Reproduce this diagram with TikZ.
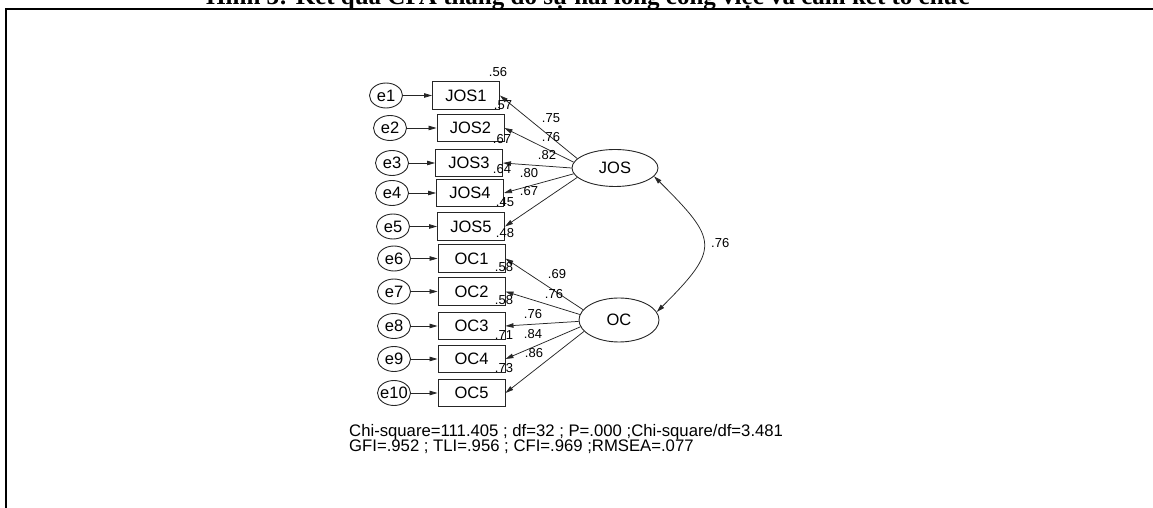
\documentclass[tikz,border=0pt]{standalone}
\usepackage{fontspec}
\setmainfont{Liberation Sans}
\newfontfamily\captionfont{Liberation Serif}
\usetikzlibrary{shapes.geometric,arrows.meta}

\begin{document}
\begin{tikzpicture}[x=1pt, y=1pt,
    obs/.style={rectangle, draw=black!85, line width=0.9pt, minimum width=67pt,
        minimum height=27.5pt, inner sep=0pt, font=\fontsize{16.5}{18}\selectfont},
    eps/.style={ellipse, draw=black!85, line width=0.9pt, minimum width=33pt,
        minimum height=25pt, inner sep=0pt, font=\fontsize{16.5}{18}\selectfont},
    lat/.style={ellipse, draw=black!85, line width=0.9pt, inner sep=0pt,
        font=\fontsize{16.5}{18}\selectfont},
    load/.style={-{Triangle[length=8pt,width=4.5pt]}, line width=0.75pt, black!85},
    cov/.style={{Triangle[length=8pt,width=4.5pt]}-{Triangle[length=8pt,width=4.5pt]},
        line width=0.75pt, black!85},
    num/.style={inner sep=0pt, font=\fontsize{13}{14}\selectfont}
]
    \useasboundingbox (0,0) rectangle (1153,508);

    % caption and page frame
    \node[anchor=base, font=\captionfont\bfseries\fontsize{25}{28}\selectfont] (title) at (588,503)
        {Hình 3: Kết quả CFA thang đo sự hài lòng công việc và cam kết tổ chức};
    \draw[line width=2pt] (6,0) -- (6,499.5);
    \draw[line width=1.2pt] (5,499) -- (1153,499);

    % observed variables
    \node[obs] (jos1) at (466,412.5) {JOS1};
    \node[obs] (jos2) at (470.5,380) {JOS2};
    \node[obs] (jos3) at (469,345) {JOS3};
    \node[obs] (jos4) at (470,315) {JOS4};
    \node[obs] (jos5) at (471,281.5) {JOS5};
    \node[obs] (oc1) at (471.5,249.5) {OC1};
    \node[obs] (oc2) at (471.5,216.5) {OC2};
    \node[obs] (oc3) at (471.5,182) {OC3};
    \node[obs] (oc4) at (471.5,149) {OC4};
    \node[obs] (oc5) at (471.5,115) {OC5};

    % error terms
    \node[eps] (e1) at (386,412.5) {e1};
    \node[eps] (e2) at (390,380) {e2};
    \node[eps] (e3) at (392,345) {e3};
    \node[eps] (e4) at (392,315) {e4};
    \node[eps] (e5) at (393,281.5) {e5};
    \node[eps] (e6) at (394,249.5) {e6};
    \node[eps] (e7) at (394,216.5) {e7};
    \node[eps] (e8) at (394,182) {e8};
    \node[eps] (e9) at (394,149) {e9};
    \node[eps] (e10) at (394,115) {\makebox[0pt]{e10}};

    \draw[load] (e1) -- (jos1);
    \draw[load] (e2) -- (jos2);
    \draw[load] (e3) -- (jos3);
    \draw[load] (e4) -- (jos4);
    \draw[load] (e5) -- (jos5);
    \draw[load] (e6) -- (oc1);
    \draw[load] (e7) -- (oc2);
    \draw[load] (e8) -- (oc3);
    \draw[load] (e9) -- (oc4);
    \draw[load] (e10) -- (oc5);

    % latent factors
    \node[lat, minimum width=86pt, minimum height=37pt] (JOS) at (615,340) {JOS};
    \node[lat, minimum width=80pt, minimum height=44pt] (OC) at (619,188) {OC};

    \draw[load] (JOS.166) -- (jos1.east);
    \draw[load] (JOS.172) -- (jos2.east);
    \draw[load] (JOS.180) -- (jos3.east);
    \draw[load] (JOS.188) -- (jos4.east);
    \draw[load] (JOS.194) -- (jos5.east);
    \draw[load] (OC.164) -- (oc1.east);
    \draw[load] (OC.172) -- (oc2.east);
    \draw[load] (OC.182) -- (oc3.east);
    \draw[load] (OC.190) -- (oc4.east);
    \draw[load] (OC.198) -- (oc5.east);

    \draw[cov] (JOS.-12) to[out=-45, in=45, looseness=1.7] (OC.12);
    \node[num, anchor=west] (c1) at (711,265) {.76};

    % squared multiple correlations
    \node[num] (r1) at (498,436) {.56};
    \node[num] (r2) at (503,403) {.57};
    \node[num] (r3) at (502,369) {.67};
    \node[num] (r4) at (502,339) {.64};
    \node[num] (r5) at (505,306) {.45};
    \node[num] (r6) at (505,275) {.48};
    \node[num] (r7) at (504,241) {.58};
    \node[num] (r8) at (504,208) {.58};
    \node[num] (r9) at (504,173) {.71};
    \node[num] (r10) at (504,140) {.73};

    % standardized loadings
    \node[num] (l1) at (551,390) {.75};
    \node[num] (l2) at (551,371) {.76};
    \node[num] (l3) at (547,353) {.82};
    \node[num] (l4) at (529,335) {.80};
    \node[num] (l5) at (529,317) {.67};
    \node[num] (l6) at (557,234) {.69};
    \node[num] (l7) at (554,214) {.76};
    \node[num] (l8) at (533,194) {.76};
    \node[num] (l9) at (533,174) {.84};
    \node[num] (l10) at (534,155) {.86};

    % fit indices
    \node[anchor=base west, inner sep=0pt, font=\fontsize{16.7}{15}\selectfont] (fit1) at (349,71)
        {Chi-square=111.405 ; df=32 ; P=.000 ;Chi-square/df=3.481};
    \node[anchor=base west, inner sep=0pt, font=\fontsize{16.7}{15}\selectfont] (fit2) at (349,56)
        {GFI=.952 ; TLI=.956 ; CFI=.969 ;RMSEA=.077};
\end{tikzpicture}
\end{document}
